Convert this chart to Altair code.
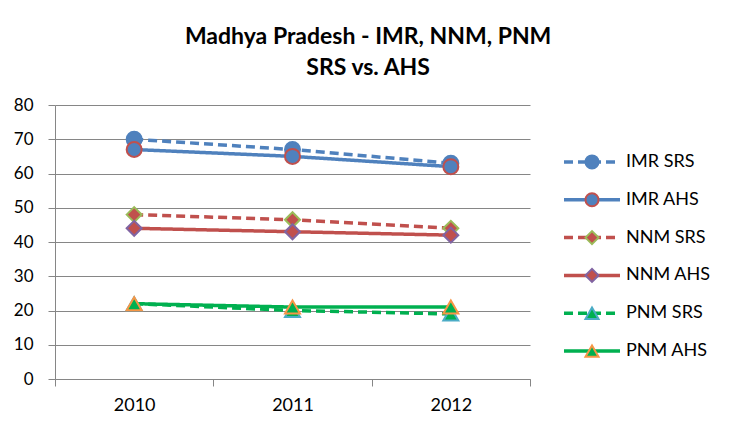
import altair as alt
import pandas as pd

years = ["2010", "2011", "2012"]
series = ["IMR SRS", "IMR AHS", "NNM SRS", "NNM AHS", "PNM SRS", "PNM AHS"]

imr_srs = [70, 67, 63]
imr_ahs = [67, 65, 62]
nnm_srs = [48, 46.5, 44]
nnm_ahs = [44, 43, 42]
pnm_srs = [22, 20, 19]
pnm_ahs = [22, 21, 21]

line_colors = ["#4F81BD", "#4F81BD", "#C0504D", "#C0504D", "#00B050", "#00B050"]
marker_strokes = ["#4F81BD", "#C0504D", "#9BBB59", "#8064A2", "#4BACC6", "#F79646"]
shapes = ["circle", "circle", "diamond", "diamond", "triangle-up", "triangle-up"]
dashes = [[9, 5], [1, 0], [9, 5], [1, 0], [9, 5], [1, 0]]
sizes = [225, 225, 200, 200, 180, 180]

FONT = "Lato"

values = [imr_srs, imr_ahs, nnm_srs, nnm_ahs, pnm_srs, pnm_ahs]
rows = []
for name, vals in zip(series, values):
    for yr, v in zip(years, vals):
        rows.append({"series": name, "year": yr, "value": v})
df = pd.DataFrame(rows)
legend_df = pd.DataFrame({"series": series})

color_scale = alt.Scale(domain=series, range=line_colors)
stroke_scale = alt.Scale(domain=series, range=marker_strokes)
shape_scale = alt.Scale(domain=series, range=shapes)
dash_scale = alt.Scale(domain=series, range=dashes)
size_scale = alt.Scale(domain=series, range=sizes)

x_enc = alt.X(
    "year:N",
    title=None,
    scale=alt.Scale(type="band", paddingInner=0, paddingOuter=0),
    axis=alt.Axis(labelAngle=0, tickBand="extent", tickSize=7, labelPadding=10,
                  labelFontSize=18, labelFont=FONT, labelColor="black",
                  domainColor="#868686", tickColor="#868686", grid=False),
)
y_enc = alt.Y(
    "value:Q",
    title=None,
    scale=alt.Scale(domain=[0, 80], nice=False),
    axis=alt.Axis(values=list(range(0, 81, 10)), tickSize=7, labelPadding=15,
                  labelFontSize=17, labelFont=FONT, labelColor="black",
                  domainColor="#868686", tickColor="#868686",
                  gridColor="#868686", gridWidth=1),
)

base = alt.Chart(df)
lines = base.mark_line(strokeWidth=3.5).encode(
    x=x_enc,
    y=y_enc,
    color=alt.Color("series:N", scale=color_scale, legend=None),
    strokeDash=alt.StrokeDash("series:N", scale=dash_scale, legend=None),
    detail="series:N",
)
points = base.mark_point(filled=True, opacity=1, strokeWidth=2, strokeOpacity=1).encode(
    x=x_enc,
    y=y_enc,
    fill=alt.Fill("series:N", scale=color_scale, legend=None),
    stroke=alt.Stroke("series:N", scale=stroke_scale, legend=None),
    shape=alt.Shape("series:N", scale=shape_scale, legend=None),
    size=alt.Size("series:N", scale=size_scale, legend=None),
)
main = alt.layer(lines, points).properties(width=475, height=274)

# point scale keeps half a step of padding at each end
leg_y = alt.Y("series:N", scale=alt.Scale(domain=series, range=[38, 265]), axis=None)
leg_base = alt.Chart(legend_df)
leg_rules = leg_base.mark_rule(strokeWidth=3.5).encode(
    x=alt.value(13), x2=alt.value(69), y=leg_y,
    color=alt.Color("series:N", scale=color_scale, legend=None),
    strokeDash=alt.StrokeDash("series:N", scale=dash_scale, legend=None),
)
leg_points = leg_base.mark_point(filled=True, opacity=1, strokeWidth=2, strokeOpacity=1).encode(
    x=alt.value(41), y=leg_y,
    fill=alt.Fill("series:N", scale=color_scale, legend=None),
    stroke=alt.Stroke("series:N", scale=stroke_scale, legend=None),
    shape=alt.Shape("series:N", scale=shape_scale, legend=None),
    size=alt.value(170),
)
leg_text = leg_base.mark_text(align="left", baseline="middle", font=FONT, fontSize=18, color="black").encode(
    x=alt.value(75), y=leg_y, text="series:N",
)
legend = alt.layer(leg_rules, leg_points, leg_text).properties(width=160, height=274)

chart = alt.hconcat(main, legend, spacing=20).properties(
    title=alt.TitleParams(
        ["Madhya Pradesh - IMR, NNM, PNM", "SRS vs. AHS"],
        anchor="middle", font=FONT, fontSize=23, fontWeight="bold",
        lineHeight=31, offset=16, dx=6, color="black",
    ),
    padding={"left": 5, "top": 18, "right": 5, "bottom": 5},
).configure_view(stroke=None)

chart.save("out.html", embed_options={"renderer": "svg", "actions": False})
